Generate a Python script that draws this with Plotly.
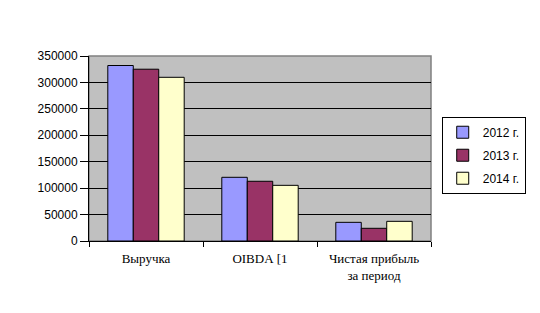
import plotly.graph_objects as go

categories = ["Выручка", "OIBDA\u00a0[1", "Чистая прибыль<br>за период"]
series_names = ["2012 г.", "2013 г.", "2014 г."]
values_2012 = [332000, 120500, 35300]
values_2013 = [325000, 113000, 24000]
values_2014 = [309700, 105300, 37200]
colors = ["#9999FF", "#993366", "#FFFFCC"]
y_ticks = [0, 50000, 100000, 150000, 200000, 250000, 300000, 350000]

fig = go.Figure()
for name, vals, col in zip(series_names, [values_2012, values_2013, values_2014], colors):
    fig.add_trace(go.Bar(
        x=categories, y=vals, name=name, legendgroup=name,
        marker=dict(color=col, line=dict(color="black", width=1)),
    ))

fig.update_layout(
    width=540, height=313,
    margin=dict(l=89, r=109, t=56, b=72, autoexpand=False),
    paper_bgcolor="white",
    plot_bgcolor="#C0C0C0",
    barmode="group",
    bargap=0.33,
    bargroupgap=0,
    showlegend=True,
    legend=dict(
        xref="container", yref="container",
        x=0.818, y=0.627, xanchor="left", yanchor="top",
        bgcolor="white", bordercolor="black", borderwidth=1,
        font=dict(family="Liberation Sans, Arial, sans-serif", size=12, color="black"),
        traceorder="grouped", tracegroupgap=4, itemwidth=30,
    ),
    xaxis=dict(
        tickson="boundaries", ticks="outside", ticklen=5, tickcolor="black",
        showline=True, linecolor="black", linewidth=1,
        showgrid=False,
        tickfont=dict(family="Liberation Serif, Times New Roman, serif", size=13, color="black"),
        ticklabelstandoff=5,
    ),
    yaxis=dict(
        range=[0, 350000], tickvals=y_ticks, ticktext=[str(v) for v in y_ticks],
        ticks="outside", ticklen=8, tickcolor="black",
        showline=True, linecolor="black", linewidth=1,
        showgrid=True, gridcolor="black", gridwidth=1,
        zeroline=False,
        tickfont=dict(family="Liberation Sans, Arial, sans-serif", size=12, color="black"),
    ),
    shapes=[dict(type="rect", xref="paper", yref="paper", x0=0, x1=1, y0=0, y1=1,
                 line=dict(color="#808080", width=1.5), layer="below")],
)

fig.write_html("out.html")
